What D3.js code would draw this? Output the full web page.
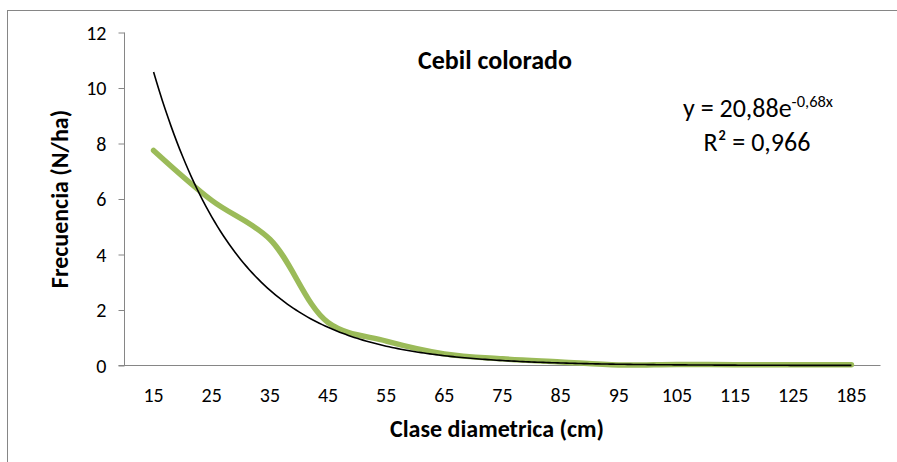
<!DOCTYPE html>
<html>
<head>
<meta charset="utf-8">
<script src="https://cdn.jsdelivr.net/npm/d3@7"></script>
<style>
  html, body { margin: 0; padding: 0; background: #fff; }
  svg { display: block; }
  text { font-family: Carlito, Lato, "Open Sans", sans-serif; fill: #000; }
</style>
</head>
<body>
<svg id="chart" width="897" height="462"></svg>
<script>
// ---- Data ----
const categories = ["15", "25", "35", "45", "55", "65", "75", "85", "95", "105", "115", "125", "185"];
const frecuencia = [7.75, 5.95, 4.55, 1.55, 0.88, 0.42, 0.24, 0.13, 0.02, 0.04, 0.03, 0.03, 0.03];
const yTicks = [0, 2, 4, 6, 8, 10, 12];
const trendA = 20.88;   // from the displayed equation y = 20,88e^(-0,68x)
const trendB = -0.68;
const title = "Cebil colorado";
const xTitle = "Clase diametrica (cm)";
const yTitle = "Frecuencia (N/ha)";
const eqMain = "y = 20,88e";
const eqSup = "-0,68x";
const r2Text = "R² = 0,966";

// ---- Layout ----
const svg = d3.select("#chart");
const plot = { left: 124.5, right: 880.5, top: 32.5, bottom: 365.5 };

svg.append("rect")
  .attr("x", 7.5).attr("y", 10.5)
  .attr("width", 895).attr("height", 470)
  .attr("fill", "#fff").attr("stroke", "#868686").attr("stroke-width", 1);

const x = d3.scaleBand().domain(categories).range([plot.left, plot.right]).paddingInner(0).paddingOuter(0);
const y = d3.scaleLinear().domain([0, 12]).range([plot.bottom, plot.top]);
const xIdx = d3.scaleLinear().domain([1, categories.length])
  .range([x(categories[0]) + x.bandwidth() / 2, x(categories[categories.length - 1]) + x.bandwidth() / 2]);

// Y axis
const yAxis = svg.append("g")
  .attr("transform", `translate(${plot.left},0)`)
  .call(d3.axisLeft(y).tickValues(yTicks).tickSize(6).tickPadding(12).tickFormat(d3.format("d")));
yAxis.select(".domain").attr("stroke", "#868686").attr("d", `M0,${plot.top}V${plot.bottom}`);
yAxis.selectAll(".tick line").attr("stroke", "#868686");
yAxis.selectAll(".tick text").attr("font-size", 20).attr("dy", "0.34em");

// X axis
const xAxis = svg.append("g")
  .attr("transform", `translate(0,${plot.bottom})`)
  .call(d3.axisBottom(x).tickSize(0).tickPadding(29.5));
xAxis.select(".domain").attr("stroke", "#868686").attr("d", `M${plot.left - 6},0H${plot.right}`);
xAxis.selectAll(".tick text").attr("font-size", 20).attr("dy", "0.34em");

// Trend line (exponential from the chart's equation)
const trendPts = d3.range(1, categories.length + 0.001, 0.05).map(t => [t, trendA * Math.exp(trendB * t)]);

// Data line (smoothed)
const line = d3.line()
  .x((d, i) => x(categories[i]) + x.bandwidth() / 2)
  .y(d => y(d))
  .curve(d3.curveCatmullRom.alpha(0.5));
svg.append("path")
  .datum(frecuencia)
  .attr("d", line)
  .attr("fill", "none")
  .attr("stroke", "#9BBB59")
  .attr("stroke-width", 5.5)
  .attr("stroke-linecap", "round")
  .attr("stroke-linejoin", "round");

svg.append("path")
  .datum(trendPts)
  .attr("d", d3.line().x(d => xIdx(d[0])).y(d => y(d[1])))
  .attr("fill", "none")
  .attr("stroke", "#000")
  .attr("stroke-width", 1.6);

// Titles
svg.append("text").attr("x", 495).attr("y", 69).attr("text-anchor", "middle")
  .attr("font-size", 26).attr("font-weight", "bold").text(title);
svg.append("text").attr("x", 497).attr("y", 437).attr("text-anchor", "middle")
  .attr("font-size", 24).attr("font-weight", "bold").text(xTitle);
svg.append("text").attr("transform", "translate(68,199) rotate(-90)").attr("text-anchor", "middle")
  .attr("font-size", 24).attr("font-weight", "bold").text(yTitle);

// Equation
const eq = svg.append("text").attr("x", 758).attr("y", 117).attr("text-anchor", "middle").attr("font-size", 26);
eq.append("tspan").text(eqMain);
eq.append("tspan").attr("font-size", 16.5).attr("dy", -10).text(eqSup);
svg.append("text").attr("x", 757).attr("y", 151).attr("text-anchor", "middle").attr("font-size", 26).text(r2Text);
</script>
</body>
</html>
